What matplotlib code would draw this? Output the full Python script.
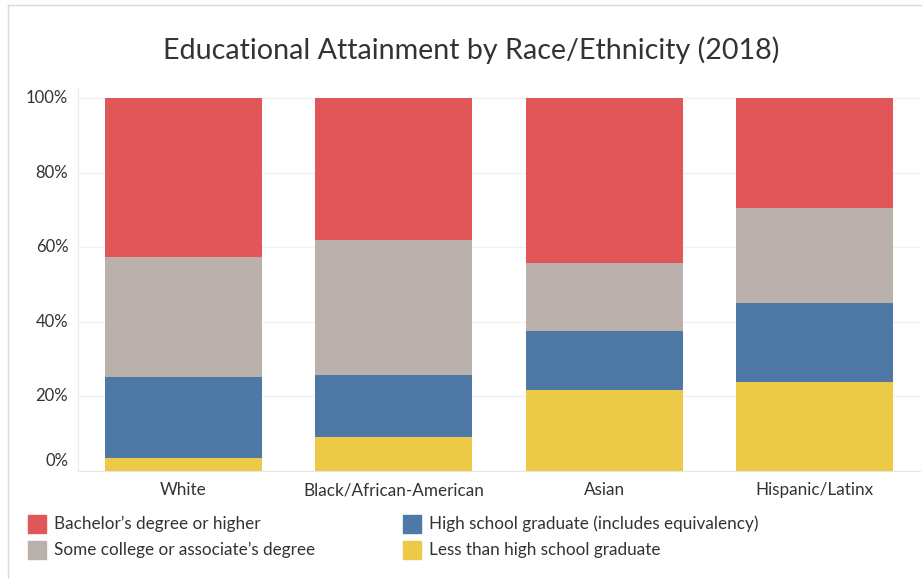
import matplotlib
matplotlib.use("Agg")
import matplotlib.pyplot as plt
from matplotlib.lines import Line2D
from matplotlib.patches import Rectangle
import numpy as np

# data (percent of each group)
groups = ["White", "Black/African-American", "Asian", "Hispanic/Latinx"]
less_than_hs = [3.5, 9.2, 21.8, 24.0]
hs_grad = [21.6, 16.5, 15.8, 21.1]
some_college = [32.2, 36.2, 18.3, 25.5]
bachelors = [42.7, 38.1, 44.1, 29.4]
yticks = [0, 20, 40, 60, 80, 100]

legend_labels = ["Bachelor\u2019s degree or higher",
                 "Some college or associate\u2019s degree",
                 "High school graduate (includes equivalency)",
                 "Less than high school graduate"]

RED, GRAY, BLUE, YELLOW = "#E15759", "#BAB0AC", "#4E79A7", "#EDC948"
TXT = "#333333"
plt.rcParams["font.family"] = ["Lato", "DejaVu Sans"]

fig = plt.figure(figsize=(9.22, 5.79), dpi=100)
ax = fig.add_axes([78/922, 1 - 471/579, (920 - 78)/922, (471 - 87)/579])

x = np.arange(len(groups))
w = 0.746
stack = [(less_than_hs, YELLOW), (hs_grad, BLUE), (some_college, GRAY), (bachelors, RED)]
bottom = np.zeros(len(groups))
for vals, col in stack:
    ax.bar(x, vals, w, bottom=bottom, color=col, zorder=2)
    bottom += np.array(vals)

ax.set_xlim(-0.5, len(groups) - 0.5)
ax.set_ylim(0, 103)

for s in ["top", "right"]:
    ax.spines[s].set_visible(False)
ax.spines["left"].set_color("#ececec")
ax.spines["bottom"].set_color("#e6e6e6")

ax.set_yticks(yticks)
ax.set_yticklabels([])
ax.tick_params(axis="y", length=0)
ax.yaxis.grid(True, color="#f0f0f0", linewidth=1, zorder=0)
for v in yticks:
    dy = 10 if v == 0 else 0
    ax.annotate(f"{v}%", xy=(0, v), xycoords=("axes fraction", "data"),
                xytext=(-7, dy * 0.72), textcoords="offset points",
                ha="right", va="center", fontsize=12, color=TXT)

ax.set_xticks(x)
ax.set_xticklabels(groups, fontsize=12.3, color=TXT)
ax.tick_params(axis="x", length=0, pad=8)

fig.text(471/922, 1 - 50/579, "Educational Attainment by Race/Ethnicity (2018)",
         ha="center", va="center", fontsize=20.6, color=TXT)

# legend drawn by hand in two columns
leg_cols = [RED, GRAY, BLUE, YELLOW]
pos = [(28, 524), (28, 550), (403, 524), (403, 550)]
for (px, py), col, lab in zip(pos, leg_cols, legend_labels):
    fig.patches.append(Rectangle((px/922, 1 - (py + 9)/579), 18/922, 18/579,
                                 transform=fig.transFigure, color=col))
    fig.text((px + 26)/922, 1 - py/579, lab, ha="left", va="center",
             fontsize=12.3, color=TXT)

# outer frame lines (top and left)
fig.lines.append(Line2D([8/922, 1], [1 - 5/579, 1 - 5/579],
                        transform=fig.transFigure, color="#d9d9d9", lw=1))
fig.lines.append(Line2D([8/922, 8/922], [0, 1 - 5/579],
                        transform=fig.transFigure, color="#d9d9d9", lw=1))

fig.savefig("out.png", dpi=100)
